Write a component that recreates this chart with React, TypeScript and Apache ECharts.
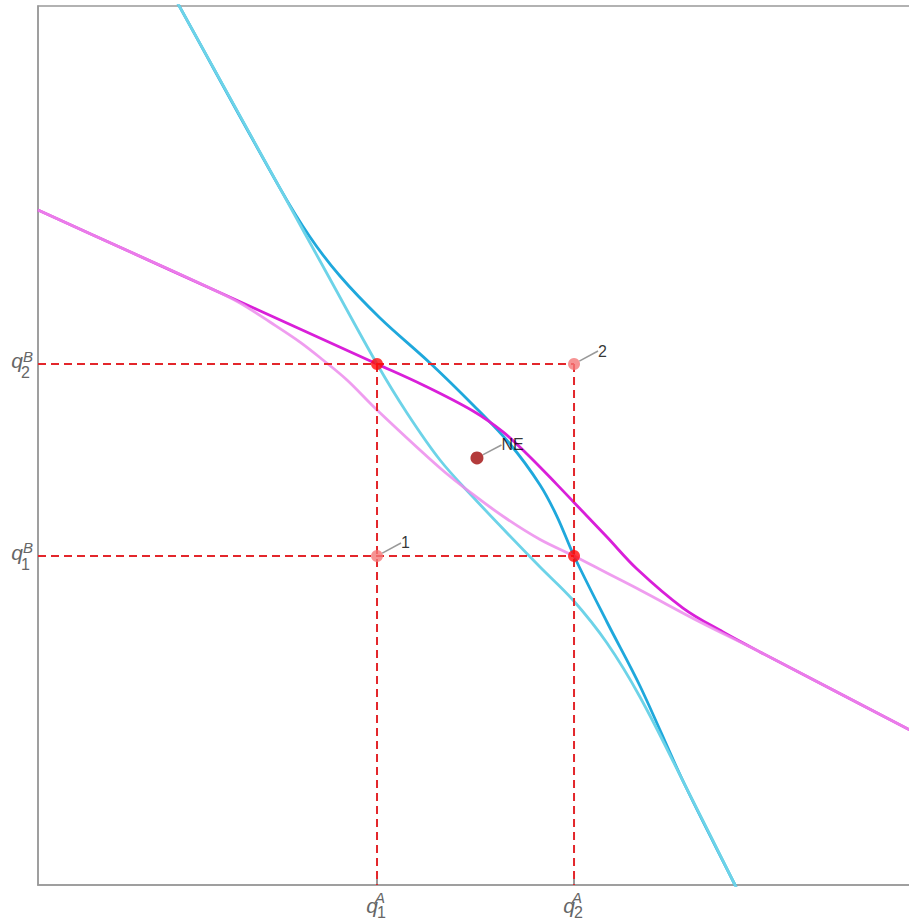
import React, { useEffect, useRef } from "react";
import * as echarts from "echarts";

// Strategy values (axis domain 0..100, no numeric labels)
const qA = [38.7, 61.19]; // q1^A, q2^A
const qB = [37.43, 59.27]; // q1^B, q2^B
const tickIndex = ["1", "2"];
const nePoint = [50.11, 48.58];

// Best response of A (base, light cyan)
const brABase = [
  [15.75, 100.68], [16.21, 99.84], [27.63, 79.25], [33.33, 68.94], [38.7, 59.27],
  [42.12, 53.7], [45.89, 48.35], [49.66, 44.14], [53.54, 40.05], [57.31, 36.18],
  [61.07, 32.42], [64.95, 27.53], [68.72, 21.39], [73.63, 11.83], [79.57, 0],
  [79.91, -0.68],
];
// Best response of A (modified, dark cyan)
const brAMod = [
  [15.75, 100.68], [16.21, 99.84], [27.63, 79.25], [31.05, 73.72], [34.47, 69.28],
  [39.04, 64.51], [44.75, 59.39], [49.66, 54.61], [53.88, 50.17], [57.31, 45.51],
  [59.25, 41.92], [61.19, 37.43], [64.95, 29.92], [68.72, 22.64], [73.63, 11.83],
  [79.57, 0], [79.91, -0.68],
];
// Best response of B (base, light violet)
const brBBase = [
  [0, 76.79], [10.5, 72.04], [19.98, 67.75], [23.06, 66.21], [26.48, 64.05],
  [29.91, 61.77], [32.53, 59.73], [35.27, 57.45], [38.7, 54.04], [45.89, 47.44],
  [49.66, 44.43], [53.54, 41.64], [57.31, 39.31], [61.19, 37.43], [64.95, 35.49],
  [68.72, 33.56], [75.57, 29.92], [82.42, 26.51], [99.43, 17.69], [100, 17.41],
];
// Best response of B (modified, magenta)
const brBMod = [
  [0, 76.79], [10.5, 72.04], [19.98, 67.75], [29.91, 63.25], [38.7, 59.27],
  [43.95, 56.88], [49.66, 53.92], [53.08, 51.54], [55.82, 49.03], [59.25, 45.55],
  [61.19, 43.52], [64.95, 39.59], [68.38, 35.95], [73.63, 31.51], [78.2, 28.78],
  [82.42, 26.51], [99.43, 17.69], [100, 17.41],
];

const FONT = '"Liberation Sans", Arial, sans-serif';

export default function App() {
  const ref = useRef<HTMLDivElement>(null);
  useEffect(() => {
    if (!ref.current) return;
    const chart = echarts.init(ref.current, null, { renderer: "svg" });
    const dashStyle = { color: "#e3262b", width: 2, type: [8, 5] as any };
    const dashLine = (data: number[][]) => ({
      type: "line",
      data,
      showSymbol: false,
      silent: true,
      lineStyle: dashStyle,
      z: 4,
    });
    const curve = (data: number[][], color: string, z: number, opacity = 1) => ({
      type: "line",
      data,
      smooth: 0.35,
      showSymbol: false,
      silent: true,
      lineStyle: { color, width: 2.8, opacity },
      z,
    });
    const labelOpts = {
      show: true,
      position: "right",
      formatter: "{b}",
      color: "#000",
      fontSize: 16,
      fontFamily: FONT,
      textBorderWidth: 0,
    };
    const labelLine = {
      show: true,
      smooth: 0.5,
      lineStyle: { color: "#999", width: 1.5 },
    };
    chart.setOption({
      animation: false,
      grid: {
        left: 38,
        top: 6,
        right: 0,
        bottom: 38,
        show: true,
        borderColor: "#999",
        borderWidth: 1.5,
      },
      xAxis: {
        type: "value",
        min: 0,
        max: 100,
        axisLine: { show: true, lineStyle: { color: "#999", width: 1.5 } },
        axisTick: {
          show: true,
          inside: true,
          length: 6,
          customValues: qA,
          lineStyle: { color: "#777", width: 1.5 },
        },
        axisLabel: { show: false },
        splitLine: { show: false },
      },
      yAxis: {
        type: "value",
        min: 0,
        max: 100,
        axisLine: { show: true, lineStyle: { color: "#999", width: 1.5 } },
        axisTick: {
          show: true,
          inside: true,
          length: 6,
          customValues: qB,
          lineStyle: { color: "#777", width: 1.5 },
        },
        axisLabel: { show: false },
        splitLine: { show: false },
      },
      series: [
        curve(brAMod, "#1fa8dc", 2),
        curve(brABase, "#6dd3e8", 3),
        curve(brBMod, "#d91fd9", 2),
        curve(brBBase, "#ec8cec", 3, 0.85),
        dashLine([[0, qB[1]], [qA[1], qB[1]]]),
        dashLine([[0, qB[0]], [qA[1], qB[0]]]),
        dashLine([[qA[0], qB[1]], [qA[0], 0]]),
        dashLine([[qA[1], qB[1]], [qA[1], 0]]),
        {
          type: "scatter",
          symbolSize: 12,
          itemStyle: { color: "#f47878" },
          data: [
            { name: tickIndex[0], value: [qA[0], qB[0]] },
            { name: tickIndex[1], value: [qA[1], qB[1]] },
          ],
          label: labelOpts,
          labelLayout: { dx: 13, dy: -13 },
          labelLine,
          z: 6,
        },
        {
          type: "scatter",
          symbolSize: 12,
          itemStyle: { color: "#ff0a0a" },
          data: [
            { value: [qA[0], qB[1]] },
            { value: [qA[1], qB[0]] },
          ],
          z: 6,
        },
        {
          type: "scatter",
          symbolSize: 13,
          itemStyle: { color: "#a00a0a" },
          data: [{ name: "NE", value: nePoint }],
          label: labelOpts,
          labelLayout: { dx: 13, dy: -13 },
          labelLine,
          z: 6,
        },
      ],
    });

    // Tick labels q_i^A / q_i^B drawn at the axis' own pixel positions
    const origin = chart.convertToPixel({ gridIndex: 0 }, [0, 0]) as number[];
    const ax = origin[0];
    const ay = origin[1];
    const txt = (x: number, y: number, text: string, size: number, align: string, italic: boolean) => ({
      type: "text",
      x,
      y,
      silent: true,
      style: {
        text,
        fill: "#666",
        font: `${italic ? "italic " : ""}${size}px ${FONT}`,
        textAlign: align,
        textVerticalAlign: "middle",
        align,
        verticalAlign: "middle",
      },
    });
    const graphics: any[] = [];
    qA.forEach((v, i) => {
      const tx = (chart.convertToPixel({ gridIndex: 0 }, [v, 0]) as number[])[0];
      graphics.push(txt(tx + 1, ay + 20, "q", 21, "right", true));
      graphics.push(txt(tx - 2, ay + 12, "A", 15, "left", true));
      graphics.push(txt(tx, ay + 27, tickIndex[i], 16, "left", false));
    });
    qB.forEach((v, i) => {
      const ty = (chart.convertToPixel({ gridIndex: 0 }, [0, v]) as number[])[1];
      graphics.push(txt(ax - 15, ty - 3.5, "q", 21, "right", true));
      graphics.push(txt(ax - 15, ty - 8, "B", 15, "left", true));
      graphics.push(txt(ax - 17, ty + 8.5, tickIndex[i], 16, "left", false));
    });
    chart.setOption({ graphic: graphics });

    return () => chart.dispose();
  }, []);
  return (
    <div
      style={{ position: "absolute", left: 0, top: 0, width: 909, height: 923, overflow: "hidden", background: "#fff" }}
    >
      <div ref={ref} style={{ width: 914, height: 923 }} />
    </div>
  );
}
